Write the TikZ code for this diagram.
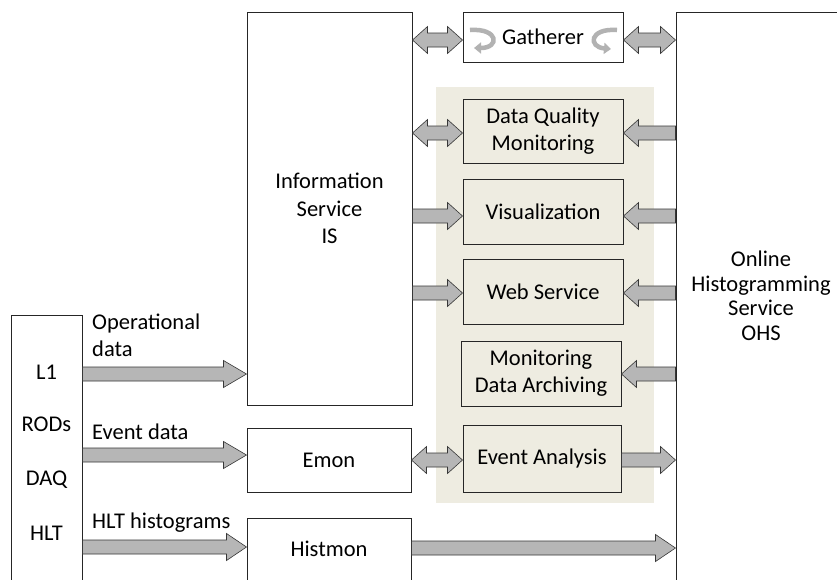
\documentclass[tikz,border=0pt]{standalone}
\usepackage{fontspec}
\setmainfont{Carlito}
\usetikzlibrary{calc,arrows.meta}
\definecolor{beige}{HTML}{EEECE1}
\definecolor{agray}{RGB}{182,182,182}
\definecolor{edgec}{RGB}{55,55,55}
% single block arrow: #1 head length, #2 start, #3 tip (horizontal, y of start)
\newcommand{\barrow}[3][15pt]{%
  \path[blk] let \p1=#2, \p2=#3, \n1={(\x2-\x1)/abs(\x2-\x1)} in
    (\x1,\y1+7pt) -- (\x2-\n1*#1,\y1+7pt) -- (\x2-\n1*#1,\y1+13.5pt) -- (\x2,\y1)
    -- (\x2-\n1*#1,\y1-13.5pt) -- (\x2-\n1*#1,\y1-7pt) -- (\x1,\y1-7pt) -- cycle;}
% double block arrow
\newcommand{\dbarrow}[3][15pt]{%
  \path[blk] let \p1=#2, \p2=#3, \n1={(\x2-\x1)/abs(\x2-\x1)} in
    (\x1,\y1) -- (\x1+\n1*#1,\y1+13.5pt) -- (\x1+\n1*#1,\y1+7pt) -- (\x2-\n1*#1,\y1+7pt)
    -- (\x2-\n1*#1,\y1+13.5pt) -- (\x2,\y1) -- (\x2-\n1*#1,\y1-13.5pt) -- (\x2-\n1*#1,\y1-7pt)
    -- (\x1+\n1*#1,\y1-7pt) -- (\x1+\n1*#1,\y1-13.5pt) -- cycle;}
\begin{document}
\begin{tikzpicture}[x=1pt,y=-1pt,
  txt/.style={font=\fontsize{22.5}{27.3}\selectfont},
  box/.style={txt, draw=black!85, line width=1pt, fill=white, align=center, inner sep=0pt},
  bbox/.style={box, fill=beige},
  blk/.style={draw=edgec, line width=0.6pt, fill=agray, line join=miter},
  lbl/.style={txt, align=left, anchor=west, inner sep=0pt},
  curv/.style={draw=black!30, line width=4.5pt, -{Triangle[length=7pt,width=11pt]}}
]
\clip (0,0) rectangle (837,579);
\fill[white] (0,0) rectangle (837,579);
% beige panel
\fill[beige] (436,87) rectangle (654,503);

% boxes
\node[box, minimum width=71, minimum height=270] (src) at (46.5,450) {};
\node[box, minimum width=165, minimum height=393] (is) at (329.5,208.5) {Information\\Service\\IS};
\node[box, minimum width=160, minimum height=50] (gat) at (543,37) {\raisebox{-3pt}{Gatherer}};
\node[bbox, minimum width=160, minimum height=64] (dqm) at (543,131) {Data Quality\\Monitoring};
\node[bbox, minimum width=160, minimum height=65] (vis) at (543,211.5) {\raisebox{-2pt}{Visualization}};
\node[bbox, minimum width=160, minimum height=65] (web) at (543,291.5) {\raisebox{-2pt}{Web Service}};
\node[bbox, minimum width=160, minimum height=65] (mda) at (541,373.5) {Monitoring\\Data Archiving};
\node[bbox, minimum width=158, minimum height=67] (ea) at (542,458.5) {Event Analysis};
\node[box, minimum width=164, minimum height=64] (emon) at (329,460) {Emon};
\node[box, minimum width=164, minimum height=62] (hm) at (329,549) {Histmon};
\node[box, minimum width=170, minimum height=568, font=\fontsize{22.5}{24.5}\selectfont] (ohs) at (761,296) {Online\\Histogramming\\Service\\OHS};

% source labels
\node[txt] (l1) at (46.5,372) {L1};
\node[txt] (rods) at (46.5,424) {RODs};
\node[txt] (daq) at (46.5,480) {DAQ};
\node[txt] (hlt) at (46.5,533) {HLT};

% gatherer loops
\draw[curv] (470,30) .. controls (499,28) and (500,48) .. (474,48);
\draw[curv] (617,30) .. controls (589,28) and (588,47) .. (611,49);

% arrows
\dbarrow{(is.east |- 0,40)}{(gat.west |- 0,40)}
\dbarrow{(gat.east |- 0,40)}{(ohs.west |- 0,40)}
\dbarrow{(is.east |- 0,133)}{(dqm.west |- 0,133)}
\barrow{(ohs.west |- 0,133)}{(dqm.east |- 0,133)}
\barrow{(is.east |- 0,216)}{(vis.west |- 0,216)}
\barrow{(ohs.west |- 0,216)}{(vis.east |- 0,216)}
\barrow{(is.east |- 0,293)}{(web.west |- 0,293)}
\barrow{(ohs.west |- 0,293)}{(web.east |- 0,293)}
\barrow{(ohs.west |- 0,374)}{(mda.east |- 0,374)}
\dbarrow{(emon.east |- 0,460)}{(ea.west |- 0,460)}
\barrow{(ea.east |- 0,460)}{(ohs.west |- 0,460)}
\barrow[23pt]{(src.east |- 0,374)}{(is.west |- 0,374)}
\barrow[23pt]{(src.east |- 0,455)}{(emon.west |- 0,455)}
\barrow[20pt]{(src.east |- 0,547)}{(hm.west |- 0,547)}
\barrow[20pt]{(hm.east |- 0,548)}{(ohs.west |- 0,548)}

% arrow labels
\node[lbl] (opl) at (92,335) {Operational\\data};
\node[lbl] (evl) at (92,432) {Event data};
\node[lbl] (hll) at (92,523) {HLT histograms};
\end{tikzpicture}
\end{document}
